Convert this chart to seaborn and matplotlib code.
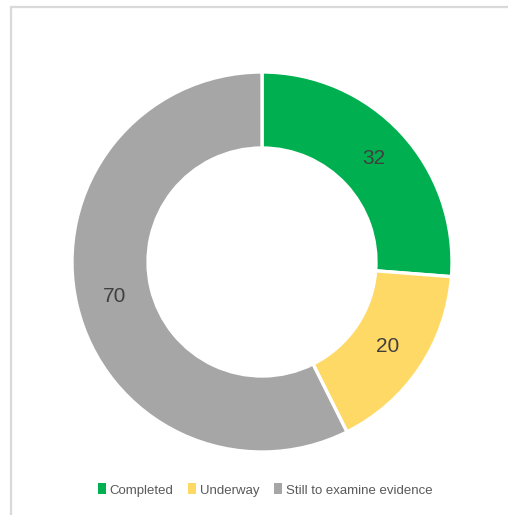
import matplotlib
matplotlib.use("Agg")
import matplotlib.pyplot as plt
import seaborn as sns
import numpy as np
from matplotlib.lines import Line2D
from matplotlib.patches import Patch

categorias = ["Completed", "Underway", "Still to examine evidence"]
valores = [32, 20, 70]
colores = ["#00B050", "#FFD966", "#A6A6A6"]

sns.set_theme(style="white")
plt.rcParams['font.family'] = ['Liberation Sans', 'DejaVu Sans']

W, H = 508, 515
fig = plt.figure(figsize=(W / 100, H / 100), dpi=100)
fig.patch.set_facecolor("white")

# marco gris arriba y a la izquierda
fig.add_artist(Line2D([10.5 / W, 10.5 / W], [0, 1 - 6.5 / H], transform=fig.transFigure,
                      color="#D9D9D9", lw=1.6))
fig.add_artist(Line2D([10.5 / W, 1], [1 - 6.5 / H, 1 - 6.5 / H], transform=fig.transFigure,
                      color="#D9D9D9", lw=1.6))

# Gráfico de donut
ax = fig.add_axes([72 / W, (H - 452) / H, 380 / W, 380 / H])
wedges, textos = ax.pie(valores, colors=colores, startangle=90, counterclock=False,
                        radius=1, wedgeprops=dict(width=0.4, edgecolor="white", linewidth=2.4))
ax.set_xlim(-1, 1)
ax.set_ylim(-1, 1)
ax.set_aspect("equal")
ax.axis("off")

# Añadir los valores en cada sector
for w, v in zip(wedges, valores):
    ang = np.deg2rad((w.theta1 + w.theta2) / 2)
    ax.text(0.8 * np.cos(ang), 0.8 * np.sin(ang), str(v), ha="center", va="center",
            fontsize=15, color="#404040")

handles = [Patch(facecolor=c, edgecolor="none") for c in colores]
fig.legend(handles, categorias, loc="center", bbox_to_anchor=(265 / W, 1 - 490 / H),
           ncol=3, frameon=False, fontsize=9.5, handlelength=0.6, handleheight=0.9,
           handletextpad=0.3, columnspacing=1.1, labelcolor="#595959")

plt.savefig("out.png", dpi=100)
